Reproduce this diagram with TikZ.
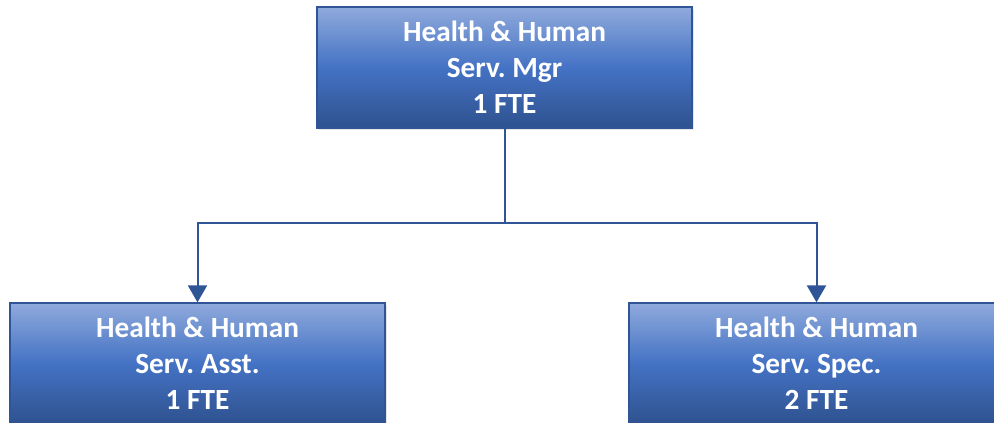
\documentclass[tikz,border=0pt]{standalone}
\usepackage{fontspec}
\setmainfont{Carlito}
\usetikzlibrary{arrows.meta,shadows}
\definecolor{boxtop}{RGB}{143,170,220}
\definecolor{boxmid}{RGB}{68,114,196}
\definecolor{boxbot}{RGB}{47,82,143}
\definecolor{edgec}{RGB}{47,85,151}
\frenchspacing
\begin{document}
\begin{tikzpicture}[x=1pt,y=-1pt,
  orgbox/.style={draw=edgec, line width=1.2pt, top color=boxtop, bottom color=boxbot, middle color=boxmid,
    minimum width=375pt, minimum height=121pt, inner sep=0pt, align=center, text=white,
    font=\fontsize{29.3}{36}\selectfont\bfseries,
    drop shadow={opacity=0.2, shadow xshift=2pt, shadow yshift=-2pt}},
  wire/.style={draw=edgec, line width=2pt},
  link/.style={wire, -{Triangle[width=19pt,length=17pt]}}]
\useasboundingbox (0,0) rectangle (994,423);
\node[orgbox] (mgr) at (504.5,67.5) {Health \& Human\\Serv. Mgr\\1 FTE};
\node[orgbox] (asst) at (197.5,363.5) {Health \& Human\\Serv. Asst.\\1 FTE};
\node[orgbox] (spec) at (816.5,363.5) {Health \& Human\\Serv. Spec.\\2 FTE};
\coordinate (j) at (504.5,223);
\draw[wire] (mgr.south) -- (j);
\draw[link] (j) -| (asst.north);
\draw[link] (j) -| (spec.north);
\end{tikzpicture}
\end{document}
